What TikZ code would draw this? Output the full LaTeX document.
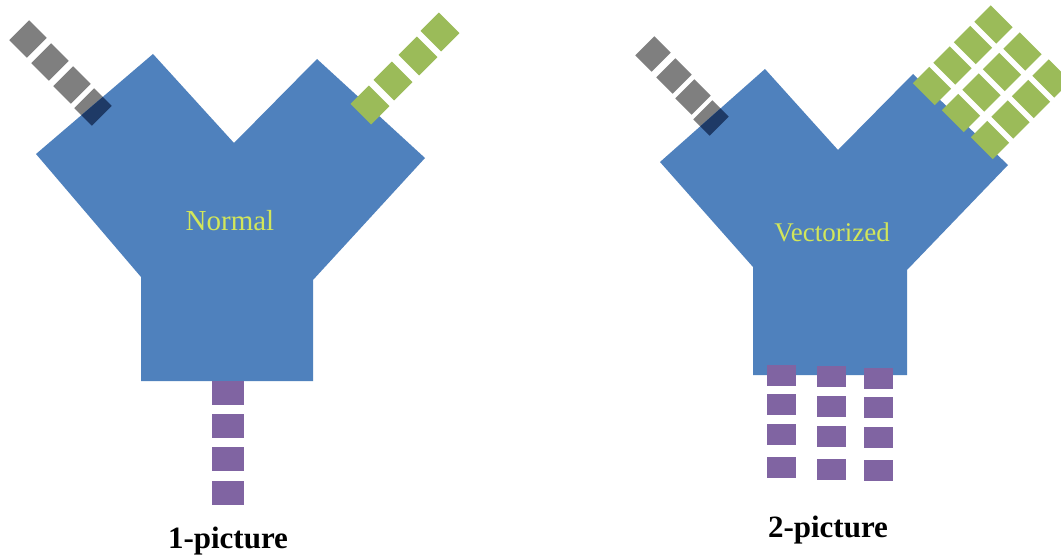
\documentclass[tikz,border=0pt]{standalone}
\usepackage{fontspec}
\setmainfont{Liberation Serif}
\definecolor{ybl}{RGB}{79,129,189}
\definecolor{ygr}{RGB}{155,187,89}
\definecolor{ypu}{RGB}{128,100,162}
\definecolor{ygy}{RGB}{127,127,127}
\definecolor{ynv}{RGB}{30,58,102}
\definecolor{ytx}{RGB}{210,230,90}
\tikzset{
  blk/.style={rectangle, inner sep=0pt, outer sep=0pt, draw=none},
  graysq/.style={blk, fill=ygy, rotate=45, minimum width=28pt, minimum height=25pt},
  graysqb/.style={blk, fill=ygy, rotate=45, minimum width=27pt, minimum height=23pt},
  navysq/.style={graysq, fill=ynv},
  navysqb/.style={graysqb, fill=ynv},
  greensq/.style={blk, fill=ygr, rotate=-45, minimum width=29pt, minimum height=26pt},
  greensqb/.style={blk, fill=ygr, rotate=-45, minimum width=31pt, minimum height=23pt},
  purpsq/.style={blk, fill=ypu, minimum width=32pt, minimum height=24pt},
  purpsqb/.style={blk, fill=ypu, minimum width=29pt, minimum height=21pt},
  ybody/.style={fill=ybl},
  intext/.style={text=ytx, anchor=base, inner sep=0pt},
  caption/.style={text=black, anchor=base, inner sep=0pt, font=\bfseries\fontsize{31}{32}\selectfont}
}
\begin{document}
\begin{tikzpicture}[x=1pt,y=-1pt]
\useasboundingbox (0,0) rectangle (1061,556);
\fill[white] (0,0) rectangle (1061,556);

% ---------- picture 1 ----------
\foreach \n/\px/\py in {1/28/39, 2/50/62, 3/72/85, 4/93/107}
  \node[graysq] (k\n) at (\px,\py) {};
\path[ybody] (141,381) -- (141,277) -- (36,154) -- (153,54) -- (234,143) -- (317,59)
  -- (425,158) -- (313,280) -- (313,381) -- cycle;
\begin{scope}
  \clip (141,381) -- (141,277) -- (36,154) -- (153,54) -- (234,143) -- (317,59)
    -- (425,158) -- (313,280) -- (313,381) -- cycle;
  \node[navysq] (k4d) at (93,107) {};
\end{scope}
\foreach \n/\px/\py in {1/370/105, 2/393/81, 3/418/56, 4/440/32}
  \node[greensq] (g\n) at (\px,\py) {};
\foreach \n/\py in {1/393, 2/426, 3/459, 4/493}
  \node[purpsq] (p\n) at (228,\py) {};
\node[intext, font=\fontsize{29}{30}\selectfont] (t1) at (230,231) {Normal};
\node[caption] (c1) at (228,548) {1-picture};

% ---------- picture 2 ----------
\foreach \n/\px/\py in {1/653/54, 2/674/76, 3/693/97, 4/711/118}
  \node[graysqb] (kk\n) at (\px,\py) {};
\path[ybody] (753,375) -- (753,267) -- (660,162) -- (765,69) -- (838,150) -- (913,74)
  -- (1008,165) -- (907,270) -- (907,375) -- cycle;
\begin{scope}
  \clip (753,375) -- (753,267) -- (660,162) -- (765,69) -- (838,150) -- (913,74)
    -- (1008,165) -- (907,270) -- (907,375) -- cycle;
  \node[navysqb] (kk4d) at (711,118) {};
\end{scope}
\foreach \i in {0,...,3}
  \foreach \j in {0,1,2}
    \node[greensqb] (gg\i\j) at ({932+20.5*\i+29*\j},{86-20.5*\i+27*\j}) {};
\foreach \c/\px/\dy in {1/781.5/0, 2/831.5/1.5, 3/878.5/3}
  \foreach \r/\py in {1/375, 2/404.5, 3/434.5, 4/467.5}
    \node[purpsqb] (pp\c\r) at (\px,{\py+\dy}) {};
\node[intext, font=\fontsize{27}{28}\selectfont] (t2) at (832,242) {Vectorized};
\node[caption] (c2) at (828,537) {2-picture};
\end{tikzpicture}
\end{document}
